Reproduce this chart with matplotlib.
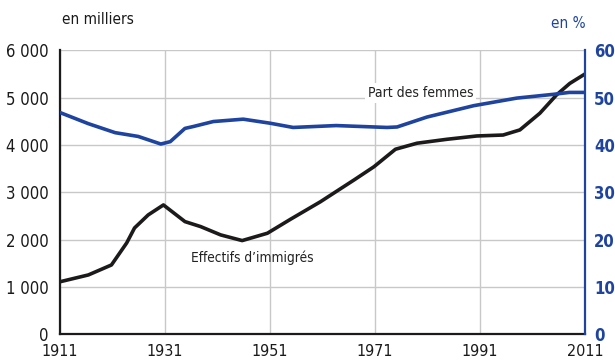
import matplotlib.pyplot as plt
from matplotlib.ticker import FuncFormatter

# police étroite, proche de l'original
plt.rcParams['font.family'] = ['DejaVu Sans']
plt.rcParams['font.stretch'] = 'condensed'

# immigrés (en milliers)
annees_imm = [1911, 1916.4, 1920.8, 1923.7, 1925.2, 1927.8, 1930.7, 1934.8, 1937.8,
              1941.6, 1945.7, 1950.5, 1954.9, 1960.6, 1967, 1970.8, 1974.9, 1979,
              1984.7, 1990.4, 1995.4, 1998.6, 2002.4, 2005.6, 2008.1, 2011]
effectifs = [1110, 1254, 1465, 1930, 2247, 2522, 2733, 2381, 2275,
             2100, 1980, 2135, 2430, 2800, 3260, 3540, 3910, 4037,
             4120, 4190, 4210, 4318, 4670, 5060, 5300, 5500]

# part des femmes (en %)
annees_fem = [1911, 1916.4, 1921.5, 1925.9, 1930.2, 1932, 1934.8, 1936.4, 1940.2,
              1945.9, 1951, 1955.4, 1963.6, 1973.3, 1975.2, 1980.9, 1989.8, 1998,
              2005, 2008, 2011]
part_femmes = [46.85, 44.5, 42.6, 41.8, 40.2, 40.7, 43.5, 43.9, 44.95,
               45.45, 44.6, 43.7, 44.1, 43.7, 43.8, 45.9, 48.3, 49.9,
               50.7, 51.1, 51.1]

annees_ticks = [1911, 1931, 1951, 1971, 1991, 2011]
noir = '#1c1a1a'
bleu = '#1f44a0'

fig = plt.figure(figsize=(6.15, 3.6), dpi=100)
ax = fig.add_axes([60 / 615, 1 - 334.3 / 360, 525 / 615, 284 / 360])
ax2 = ax.twinx()

ax.set_xlim(1911, 2011)
ax.set_ylim(0, 6000)
ax2.set_ylim(0, 60)

ax.set_xticks(annees_ticks)
ax.set_yticks(range(0, 6001, 1000))
ax2.set_yticks(range(0, 61, 10))
ax.yaxis.set_major_formatter(FuncFormatter(lambda v, p: f'{int(v):,}'.replace(',', ' ')))

ax.grid(True, color='#c8c8c8', lw=1)
ax.set_axisbelow(True)

ax.tick_params(axis='both', length=0, labelsize=12, colors='#1a1a1a')
ax.tick_params(axis='x', pad=7, labelsize=11.5)
ax.tick_params(axis='y', pad=8)
ax2.tick_params(axis='y', length=0, labelsize=12, pad=6.5, colors=bleu)
for lab in ax2.get_yticklabels():
    lab.set_fontweight('bold')

for s in ['top', 'right']:
    ax.spines[s].set_visible(False)
for s in ['top', 'left', 'bottom']:
    ax2.spines[s].set_visible(False)
ax.spines['left'].set_color(noir)
ax.spines['left'].set_linewidth(1.6)
ax.spines['bottom'].set_color(noir)
ax.spines['bottom'].set_linewidth(1.6)
ax2.spines['right'].set_color(bleu)
ax2.spines['right'].set_linewidth(1.6)

ax.plot(annees_imm, effectifs, color=noir, lw=2.6,
        solid_joinstyle='round', solid_capstyle='round', zorder=3)
ax2.plot(annees_fem, part_femmes, color=bleu, lw=2.6,
         solid_joinstyle='round', solid_capstyle='round', zorder=3)

ax.text(1979.7, 5100, 'Part des femmes', ha='center', va='center', fontsize=10,
        color='#222222', zorder=4,
        bbox=dict(boxstyle='square,pad=0.2', fc='white', ec='none'))
ax.text(1947.6, 1613, 'Effectifs d\u2019immigrés', ha='center', va='center',
        fontsize=9.8, color='#222222', zorder=4)

fig.text(62 / 615, 1 - 20 / 360, 'en milliers', ha='left', va='center',
         fontsize=11, color='#1a1a1a')
fig.text(586 / 615, 1 - 23 / 360, 'en %', ha='right', va='center',
         fontsize=11, color=bleu)

fig.savefig('out.png', dpi=100)
